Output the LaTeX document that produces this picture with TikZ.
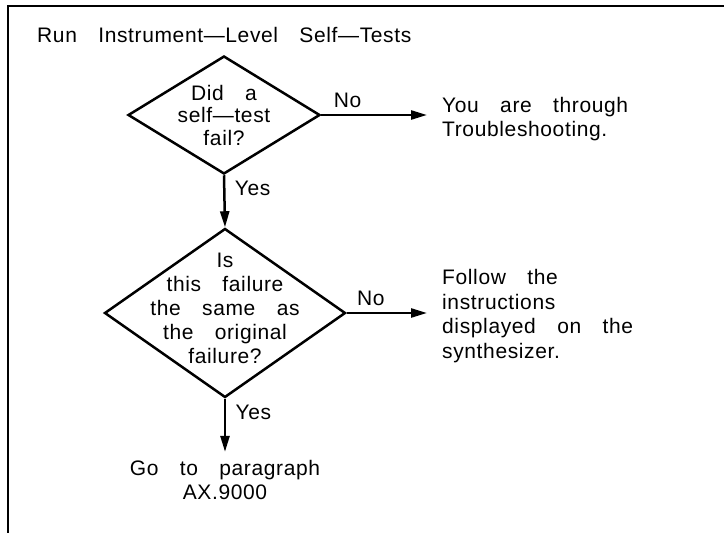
\documentclass[tikz,border=0pt]{standalone}
\usepackage{fontspec}
\setmainfont{Liberation Sans}[LetterSpace=3,WordSpace=3.3]
\usepackage{tikz}
\usetikzlibrary{shapes.geometric,arrows.meta}

\begin{document}
\begin{tikzpicture}[
  x=1pt, y=-1pt,
  font=\fontsize{21}{24.5}\selectfont,
  decision/.style={draw, diamond, line width=2.5pt, inner sep=0pt},
  txt/.style={align=center, inner sep=0pt},
  note/.style={align=left, inner sep=0pt, anchor=west},
  arr/.style={-{Triangle[length=16pt,width=9pt]}, line width=2.5pt}
]
\useasboundingbox (0,0) rectangle (724,533);

% Frame
\draw[line width=1.2pt] (724,6) coordinate (fr) -- (8,6) -- (8,533);

% Title
\node[anchor=base west, inner sep=0pt] (title) at (37,42) {Run Instrument---Level Self---Tests};

% Decisions
\node[decision, minimum width=192pt, minimum height=118pt] (q1) at (224,115) {};
\node[txt, font=\fontsize{21}{22.5}\selectfont] (q1txt) at (224,115) {Did a\\self---test\\fail?};

\node[decision, minimum width=241pt, minimum height=169pt] (q2) at (225,313) {};
\node[txt, font=\fontsize{21}{24}\selectfont] (q2txt) at (225,308) {Is\\this failure\\the same as\\the original\\failure?};

% Results
\node[note] (done) at (442,119) {You are through\\Troubleshooting.};
\node[note] (follow) at (442,316) {Follow the\\instructions\\displayed on the\\synthesizer.};
\node[txt] (goto) at (225,480) {Go to paragraph\\AX.9000};

% Arrows
\draw[arr] (q1.east) -- node[above, pos=0.25, yshift=3pt] (no1) {No} ([xshift=-15pt]done.west |- q1.east);
\draw[arr] (q1.south) -- node[right, pos=0.25, xshift=6pt] (yes1) {Yes} (q2.north);
\draw[arr] (q2.east) -- node[above, pos=0.3, yshift=3pt] (no2) {No} ([xshift=-15pt]follow.west |- q2.east);
\draw[arr] (q2.south) -- node[right, pos=0.25, xshift=6pt] (yes2) {Yes} ([yshift=8pt]q2.south |- goto.north);
\end{tikzpicture}
\end{document}
